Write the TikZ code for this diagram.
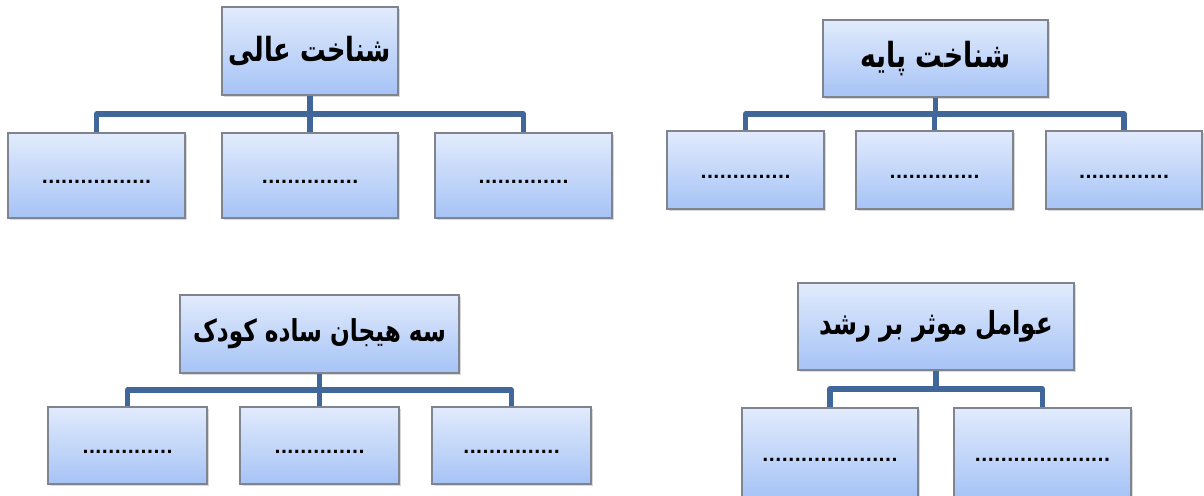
\documentclass[tikz,border=0pt]{standalone}
\usepackage{fontspec}
\usepackage{graphicx}
\usetikzlibrary{calc,shadows}
\newfontfamily\arabicfont[Script=Arabic]{DejaVu Sans}
\TeXXeTstate=1
\definecolor{boxtop}{HTML}{E1EBFC}
\definecolor{boxbot}{HTML}{A6C3F6}
\definecolor{boxline}{HTML}{7F848E}
\definecolor{linkblue}{HTML}{41679A}
\tikzset{
  wh/.style 2 args={minimum width=#1*0.5pt, minimum height=#2*0.5pt},
  box/.style={draw=boxline, line width=0.6pt, top color=boxtop, bottom color=boxbot,
    drop shadow={shadow xshift=1pt, shadow yshift=-1.2pt, opacity=0.3}, inner sep=0pt},
  head/.style={box, font=\arabicfont\bfseries\fontsize{#1}{#1}\selectfont},
  blank/.style={box, font=\arabicfont\bfseries\fontsize{8.5}{10}\selectfont,
    text height=8pt, text depth=0pt},
  link/.style={linkblue, line width=2.6pt, line join=round},
}
\newcommand{\fa}[1]{\scalebox{1}[1.3]{\beginR #1\endR}}
\begin{document}
\begin{tikzpicture}[x=0.5pt,y=-0.5pt]
      \useasboundingbox (0,0) rectangle (1204,495);
      % top left
      \node[head=12.8,wh={176}{88}] (tl) at (310,51) {\fa{شناخت عالی}};
      \node[blank,wh={177}{85}] (tlc1) at (96.5,175.5) {.................};
      \node[blank,wh={176}{85}] (tlc2) at (310,175.5) {...............};
      \node[blank,wh={177}{85}] (tlc3) at (523.5,175.5) {..............};
      % top right
      \node[head=13.3,wh={225}{77}] (tr) at (935.5,58.5) {\fa{شناخت پایه}};
      \node[blank,wh={157}{78}] (trc1) at (745.5,170) {..............};
      \node[blank,wh={157}{78}] (trc2) at (934.5,170) {..............};
      \node[blank,wh={156}{78}] (trc3) at (1124,170) {..............};
      % bottom left
      \node[head=11.6,wh={279}{78}] (bl) at (319.5,334) {\fa{سه هیجان ساده کودک}};
      \node[blank,wh={159}{77}] (blc1) at (127.5,445.5) {..............};
      \node[blank,wh={159}{77}] (blc2) at (319.5,445.5) {..............};
      \node[blank,wh={159}{77}] (blc3) at (511.5,445.5) {...............};
      % bottom right
      \node[head=12.2,wh={276}{87}] (br) at (936,326.5) {\fa{عوامل موثر بر رشد}};
      \node[blank,wh={176}{90}] (brc1) at (830,453) {.....................};
      \node[blank,wh={177}{90}] (brc2) at (1042.5,453) {.....................};
      % connectors
      \foreach \p/\cs in {tl/{tlc1,tlc2,tlc3},tr/{trc1,trc2,trc3},bl/{blc1,blc2,blc3},br/{brc1,brc2}}
        \foreach \c in \cs
          \draw[link] (\p.south) |- ($(\p.south)!.5!(\c.north)$) -| (\c.north);
\end{tikzpicture}
\end{document}
